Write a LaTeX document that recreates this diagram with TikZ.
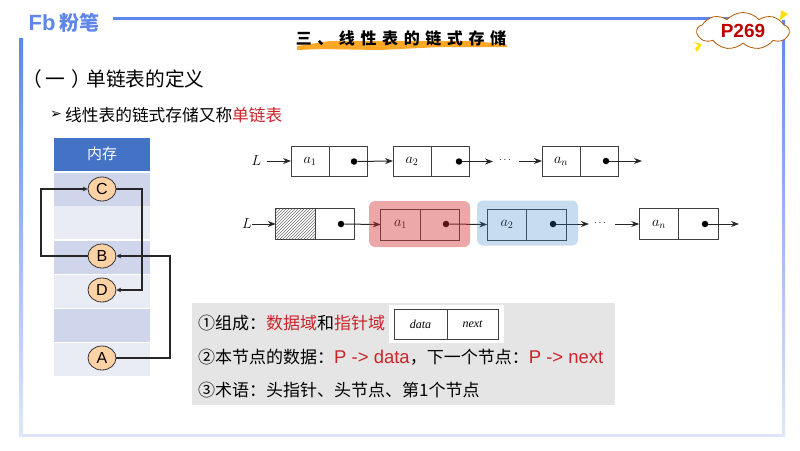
\documentclass[tikz,border=0pt]{standalone}
\usepackage{fontspec}
\setmainfont{Noto Sans CJK SC}
\newfontfamily\latinfont{Liberation Sans}
\newfontfamily\italfont{Liberation Serif}
\newfontfamily\symbfont{DejaVu Sans}
\newfontfamily\titlefont[LetterSpace=35]{Noto Sans CJK SC}
\usetikzlibrary{positioning,patterns,arrows.meta,shapes.symbols,shapes.geometric}
\definecolor{frameblue}{HTML}{5F86EA}
\definecolor{headblue}{HTML}{4472C4}
\definecolor{rowdark}{HTML}{CFD5EA}
\definecolor{rowlight}{HTML}{E9EBF5}
\definecolor{keyred}{HTML}{C9252B}
\definecolor{redglow}{HTML}{D23030}
\definecolor{blueglow}{HTML}{2F7FC0}
\tikzset{
 listcell/.style={draw=black!75,line width=1pt,minimum width=38pt,minimum height=30pt,inner sep=0pt,outer sep=0pt,font=\Large},
 widecell/.style={listcell,minimum width=39.5pt,minimum height=31pt},
 ptrdot/.style={circle,fill=black,inner sep=0pt,minimum size=6.5pt},
 link/.style={-{Stealth[length=8pt,width=6pt]},line width=1pt,black!85},
 listlabel/.style={font=\Large,inner sep=0pt},
 memrow/.style={minimum width=96pt,minimum height=33pt,inner sep=0pt},
 memnode/.style={ellipse,draw=black!80,fill=orange!35!white,thick,minimum width=28pt,minimum height=24pt,inner sep=0pt,font=\latinfont\fontsize{16}{16}\selectfont},
 memlink/.style={-stealth,black!85,line width=1.1pt},
 txt/.style={inner sep=0pt,anchor=west,font=\fontsize{17}{20}\selectfont}
}
\begin{document}
\begin{tikzpicture}[x=1pt,y=-1pt]
\useasboundingbox (0,0) rectangle (800,450);
% page frame
\fill[frameblue!22] (19,434) rectangle (784,437);
\shade[top color=frameblue,bottom color=frameblue!20] (19,38) rectangle (23,436);
\fill[frameblue] (113,16.5) rectangle (730,20);
\shade[top color=frameblue,bottom color=frameblue!20] (782,20) rectangle (785,436);
\node (logo) at (64,23) {\latinfont\bfseries\fontsize{22}{22}\selectfont\textcolor{frameblue}{Fb}\,\fontspec{Noto Sans CJK SC}\bfseries\fontsize{20}{20}\selectfont\textcolor{frameblue}{粉笔}};
% title
\fill[orange!80!yellow,opacity=.85] (297,46) -- (330,41) -- (400,41) -- (470,41) -- (506,44) -- (507,47) -- (440,47) -- (380,50) -- (320,49) -- (297,50) -- cycle;
\node (title) at (401,38) {\titlefont\bfseries\fontsize{16}{16}\selectfont 三、线性表的链式存储};
\node (badge) [cloud,cloud puffs=9,cloud puff arc=95,aspect=2.4,draw=orange!70!black,thick,fill=white,minimum width=92pt,minimum height=37pt,inner sep=0pt,text=red!75!black] at (743,31) {\latinfont\bfseries\fontsize{19}{19}\selectfont P269};
\fill[yellow!85!orange] (693,42) -- (702,44) -- (697,52) -- (695,49) -- (698,45) -- cycle;
\fill[yellow!85!orange] (781,10) -- (788,14) -- (780,20) -- cycle;
\node (heading) [txt,font=\fontsize{19.7}{22}\selectfont] at (22,79) {（\hspace{4pt}一\hspace{6pt}）\hspace{-5pt}单链表的定义};
\node (bullet) [txt,font=\symbfont\fontsize{14}{14}\selectfont] at (50,115) {➢};
\node (subhead) [txt,font=\fontsize{16.7}{20}\selectfont] at (65,115) {线性表的链式存储又称\textcolor{keyred}{单链表}};
% memory table
\node (memhead) [memrow,fill=headblue,minimum height=33pt,text=white,font=\fontsize{15}{15}\selectfont] at (102,154) {内存};
\foreach \name/\ypos/\col in {r1/189/rowdark,r2/222.5/rowlight,r3/257/rowdark,r4/291/rowlight,r5/325.5/rowdark,r6/359.5/rowlight}
 \node (\name) [memrow,fill=\col] at (102,\ypos) {};
\node (C) [memnode] at (102,189) {C};
\node (B) [memnode] at (102,256) {B};
\node (D) [memnode] at (102,290) {D};
\node (A) [memnode] at (102,358) {A};
\draw[memlink] (B.west) -- (41,256) -- (41,189) -- (C.west);
\draw[memlink] (C.east) -- (142,189) -- (142,290) -- (D.east);
\draw[memlink] (A.east) -- (170,358) -- (170,256) -- (B.east);
% first list
\node (L1) [listlabel,inner xsep=5pt] at (256.5,161) {$L$};
\node (a1) [listcell] at (310,161) {$a_1$};
\node (p1) [listcell,right=0pt of a1] {};
\node (a2) [listcell] at (412,161) {$a_2$};
\node (p2) [listcell,right=0pt of a2] {};
\node (an) [listcell] at (561,161) {$a_n$};
\node (pn) [listcell,right=0pt of an] {};
\node (d1) [ptrdot] at (354,161.5) {};
\node (d2) [ptrdot] at (459,161.5) {};
\node (dn) [ptrdot] at (606,161) {};
\node (dots1) [listlabel,font=\normalsize] at (505,160) {$\cdots$};
\coordinate (e0) at (493,161.5);
\coordinate (e1) at (519,161);
\coordinate (e2) at (642,161);
\draw[link] (L1) -- (a1.west);
\draw[link] (d1) -- (a2.west);
\draw[link] (d2) -- (e0);
\draw[link] (e1) -- (an.west);
\draw[link] (dn) -- (e2);
% second list
\node (head) [widecell,pattern=north east lines,pattern color=black!55] at (295.5,224) {};
\node (q0) [widecell,right=0pt of head] {};
\node (b1) [widecell] at (400.5,224.5) {$a_1$};
\node (q1) [widecell,right=0pt of b1] {};
\node (b2) [widecell] at (507,224.5) {$a_2$};
\node (q2) [widecell,right=0pt of b2] {};
\node (bn) [widecell] at (659,224) {$a_n$};
\node (qn) [widecell,right=0pt of bn] {};
\node (f0) [ptrdot] at (341,224) {};
\node (f1) [ptrdot] at (446,224) {};
\node (f2) [ptrdot] at (553,224) {};
\node (fn) [ptrdot] at (705,224) {};
\node (L2) [listlabel] at (247,224) {$L$};
\node (dots2) [listlabel,font=\normalsize] at (600,223) {$\cdots$};
\coordinate (g0) at (589,224);
\coordinate (g1) at (615,224);
\coordinate (g2) at (739,224);
\draw[link] (L2) -- (head.west);
\draw[link] (f0) -- (b1.west);
\draw[link] (f1) -- (b2.west);
\draw[link] (f2) -- (g0);
\draw[link] (g1) -- (bn.west);
\draw[link] (fn) -- (g2);
\node (redbg) [fill=redglow,opacity=.42,rounded corners=6pt,minimum width=101pt,minimum height=46pt,inner sep=0pt] at (419.5,224) {};
\node (bluebg) [fill=blueglow,opacity=.27,rounded corners=6pt,minimum width=101pt,minimum height=45pt,inner sep=0pt] at (527.5,223) {};
% notes
\node (notes) [fill=black!10,minimum width=423pt,minimum height=102pt,inner sep=0pt] at (403.5,354) {};
\node (white) [fill=white,minimum width=115pt,minimum height=38pt,inner sep=0pt] at (446.5,324) {};
\node (data) [listcell,minimum width=53pt,font=\italfont\itshape\fontsize{12}{12}\selectfont] at (420.5,324) {data};
\node (next) [listcell,minimum width=51pt,font=\italfont\itshape\fontsize{12}{12}\selectfont,right=0pt of data] {next};
\node (line1) [txt] at (198,323) {①组成：\textcolor{keyred}{数据域}和\textcolor{keyred}{指针域}};
\node (line2) [txt] at (198,357) {②本节点的数据：\textcolor{keyred}{\latinfont\fontsize{18.5}{20}\selectfont P -> data}，下一个节点：\textcolor{keyred}{\latinfont\fontsize{18.5}{20}\selectfont P -> next}};
\node (line3) [txt] at (198,390) {③术语：头指针、头节点、第1个节点};
\end{tikzpicture}
\end{document}
